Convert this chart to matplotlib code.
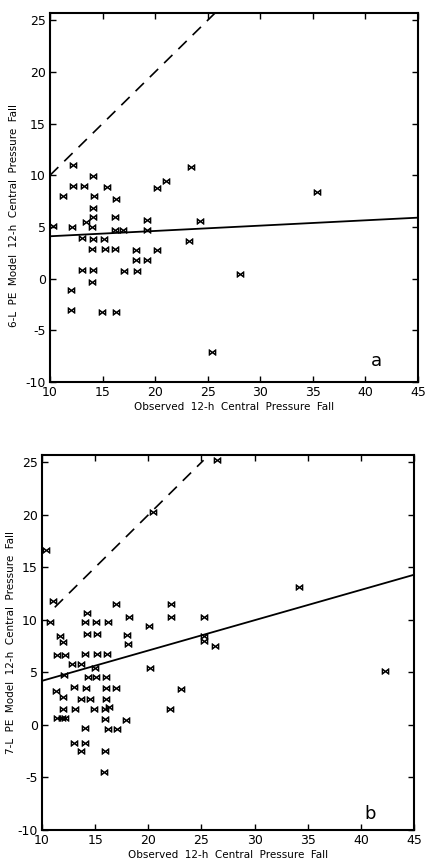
import matplotlib
matplotlib.use("Agg")
import matplotlib.pyplot as plt
import numpy as np

# Panel a (6-L PE model)
a_x = [12.2, 23.4, 14.1, 12.2, 13.2, 15.4, 21.0, 20.2, 11.2, 14.2, 16.3, 14.1, 14.1, 13.4,
       16.2, 19.2, 24.3, 10.3, 12.1, 14.0, 16.2, 16.9, 19.2, 13.05, 14.1, 15.1, 23.2, 14.0,
       15.2, 16.2, 18.2, 20.2, 18.2, 19.2, 13.05, 14.1, 17.0, 18.3, 28.1, 14.0, 12.0, 12.0,
       14.9, 16.3, 25.4, 35.4]
a_y = [11.0, 10.8, 9.9, 9.0, 9.0, 8.9, 9.4, 8.8, 8.0, 8.0, 7.7, 6.8, 6.0, 5.5,
       6.0, 5.7, 5.6, 5.05, 5.0, 4.96, 4.7, 4.7, 4.7, 3.9, 3.8, 3.8, 3.6, 2.9,
       2.9, 2.9, 2.8, 2.8, 1.8, 1.8, 0.84, 0.84, 0.77, 0.74, 0.48, -0.3, -1.1, -3.0,
       -3.2, -3.2, -7.1, 8.4]

# Panel b (7-L PE model)
b_x = [10.4, 20.4, 26.5, 11.0, 10.75, 14.2, 17.0, 22.1, 18.2, 22.1, 25.2, 14.0, 15.1, 16.2,
       20.1, 34.2, 11.7, 14.2, 15.2, 18.0, 25.2, 25.2, 26.3, 12.0, 18.1, 11.4, 12.2, 14.0,
       15.2, 16.1, 12.8, 13.7, 15.0, 20.2, 12.1, 14.3, 15.1, 16.0, 11.3, 13.0, 14.1, 16.0,
       17.0, 23.1, 12.0, 13.7, 14.5, 16.0, 11.95, 13.1, 14.9, 15.9, 16.3, 22.0, 11.4, 11.9,
       12.2, 15.9, 17.9, 14.0, 16.2, 17.05, 13.0, 14.05, 13.7, 15.9, 15.8, 42.3]
b_y = [16.7, 20.3, 25.2, 11.8, 9.8, 10.7, 11.5, 11.5, 10.3, 10.3, 10.3, 9.8, 9.8, 9.8,
       9.4, 13.1, 8.5, 8.7, 8.7, 8.6, 8.5, 8.0, 7.5, 7.9, 7.7, 6.7, 6.7, 6.8,
       6.8, 6.8, 5.85, 5.85, 5.4, 5.4, 4.75, 4.6, 4.6, 4.6, 3.2, 3.65, 3.5, 3.5,
       3.5, 3.4, 2.7, 2.5, 2.5, 2.5, 1.5, 1.5, 1.5, 1.5, 1.7, 1.5, 0.7, 0.7,
       0.7, 0.6, 0.5, -0.3, -0.35, -0.35, -1.7, -1.7, -2.45, -2.5, -4.5, 5.15]

# Regression lines (endpoints) and perfect-forecast (dashed) lines
a_fit_x = [10, 45]
a_fit_y = [4.1, 5.9]
a_diag_x = [10, 25.7]
a_diag_y = [10, 25.7]

b_fit_x = [10, 45]
b_fit_y = [4.2, 14.3]
b_diag_x = [11.2, 25.2]
b_diag_y = [11.2, 25.2]

x_ticks = [10, 15, 20, 25, 30, 35, 40, 45]
y_ticks = [-10, -5, 0, 5, 10, 15, 20, 25]

fig = plt.figure(figsize=(4.29, 8.65), dpi=100)
fig.patch.set_facecolor("white")

ax_a = fig.add_axes([50/429, 1-382/865, 368/429, 369/865])
ax_b = fig.add_axes([42/429, 1-830/865, 372/429, 375/865])

panels = [
    (ax_a, a_x, a_y, a_fit_x, a_fit_y, a_diag_x, a_diag_y,
     "6-L  PE  Model  12-h  Central  Pressure  Fall", "a", (41.0, -8.0), (-0.085, 0.45)),
    (ax_b, b_x, b_y, b_fit_x, b_fit_y, b_diag_x, b_diag_y,
     "7-L  PE  Model  12-h  Central  Pressure  Fall", "b", (40.9, -8.5), (-0.07, 0.5)),
]

for ax, xs, ys, fx, fy, dx, dy, ylab, letter, lpos, ylc in panels:
    ax.plot(fx, fy, color="black", lw=1.3, solid_capstyle="butt")
    ax.plot(dx, dy, color="black", lw=1.2, dashes=(7, 5))
    ax.plot(xs, ys, linestyle="none", marker="$\\bowtie$", markersize=5,
            color="black", markeredgewidth=0.5)
    ax.set_xlim(10, 45)
    ax.set_ylim(-10, 25.7)
    ax.set_xticks(x_ticks)
    ax.set_yticks(y_ticks)
    ax.set_xticklabels([str(t) for t in x_ticks])
    ax.set_yticklabels([str(t) for t in y_ticks])
    ax.tick_params(direction="in", length=4, width=1.0, labelsize=9,
                   top=True, right=True, pad=3)
    for s in ax.spines.values():
        s.set_linewidth(1.5)
    ax.set_xlabel("Observed  12-h  Central  Pressure  Fall", fontsize=7.5, labelpad=2)
    ax.set_ylabel(ylab, fontsize=7.5)
    ax.yaxis.set_label_coords(ylc[0], ylc[1])
    ax.text(lpos[0], lpos[1], letter, fontsize=13, ha="center", va="center")

fig.savefig("out.png", dpi=100, facecolor="white")
